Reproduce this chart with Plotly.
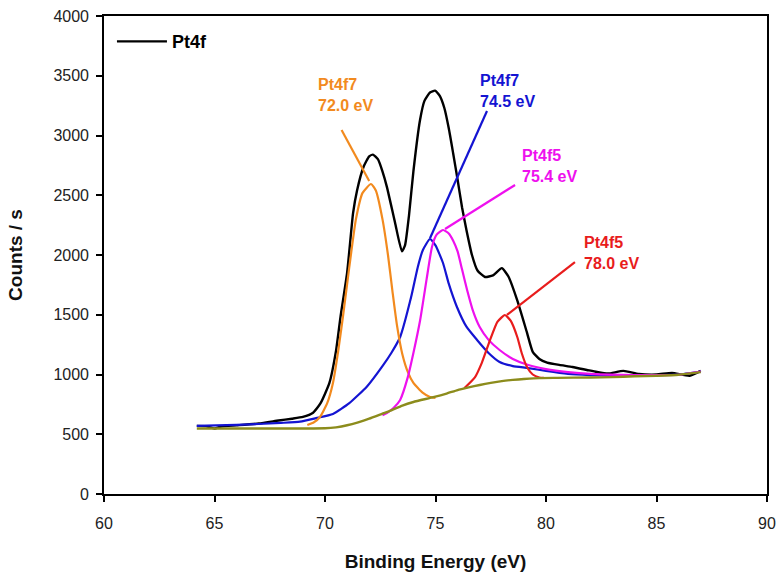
import plotly.graph_objects as go

# ---------------- data ----------------
total_x = [64.2, 64.6, 65.0, 65.3, 66.0, 67.0, 67.9, 68.5, 69.0, 69.46, 69.8, 70.2, 70.5, 70.7,
           71.0, 71.27, 71.45, 71.75, 72.0, 72.17, 72.4, 72.6, 72.8, 73.17, 73.48, 73.62, 73.8,
           74.0, 74.3, 74.5, 74.75, 74.98, 75.2, 75.4, 75.6, 75.8, 76.0, 76.2, 76.4, 76.65,
           76.9, 77.24, 77.6, 78.0, 78.3, 78.7, 79.14, 79.4, 79.7, 80.05, 80.6, 81.2, 81.85,
           82.3, 82.8, 83.5, 84.2, 85.0, 85.7, 86.5, 87.0]
total_y = [570, 568, 548, 565, 575, 590, 615, 630, 645, 680, 760, 930, 1200, 1480,
           1850, 2350, 2540, 2740, 2825, 2840, 2800, 2700, 2570, 2270, 2030, 2080, 2330,
           2700, 3130, 3290, 3360, 3375, 3330, 3230, 3060, 2850, 2630, 2400, 2210, 2000,
           1870, 1816, 1830, 1890, 1820, 1620, 1350, 1190, 1130, 1100, 1080, 1063, 1038,
           1021, 1008, 1030, 1005, 1000, 1013, 990, 1030]

p1_x = [69.2, 69.5, 69.77, 70.1, 70.36, 70.6, 70.81, 71.1, 71.4, 71.7, 72.08, 72.3, 72.6,
        72.85, 73.05, 73.25, 73.5, 73.75, 74.0, 74.4, 74.75, 75.0]
p1_y = [577, 600, 644, 760, 929, 1200, 1481, 1900, 2300, 2520, 2594, 2540, 2300,
        2000, 1700, 1420, 1170, 1020, 930, 850, 812, 805]

p2_x = [64.2, 66.0, 68.0, 68.87, 69.6, 70.36, 71.1, 71.9, 72.6, 73.0, 73.4, 73.9, 74.2, 74.43,
        74.75, 75.0, 75.34, 75.6, 75.97, 76.4, 76.88, 77.4, 77.9, 78.5, 79.2, 80.0, 81.0,
        82.0, 83.0, 84.0, 85.0, 86.0, 87.0]
p2_y = [570, 578, 595, 605, 635, 670, 760, 900, 1070, 1180, 1314, 1650, 1900, 2042,
        2134, 2080, 1933, 1760, 1565, 1400, 1289, 1180, 1105, 1070, 1054, 1030, 1005,
        995, 990, 990, 995, 1000, 1025]

p3_x = [72.6, 72.8, 73.1, 73.4, 73.75, 74.0, 74.3, 74.6, 74.84, 75.05, 75.34, 75.6, 75.8,
        76.0, 76.2, 76.43, 76.7, 77.0, 77.4, 77.9, 78.5, 79.2, 80.0, 81.0, 82.0, 84.0,
        86.0, 87.0]
p3_y = [660, 678, 720, 787, 980, 1180, 1450, 1800, 2067, 2170, 2209, 2180, 2120,
        2030, 1880, 1707, 1530, 1397, 1290, 1205, 1130, 1079, 1045, 1020, 1005, 995,
        998, 1025]

p4_x = [76.3, 76.79, 77.1, 77.47, 77.8, 78.14, 78.4, 78.7, 78.9, 79.14, 79.4, 79.7, 79.9]
p4_y = [885, 979, 1100, 1289, 1440, 1498, 1450, 1314, 1180, 1063, 1000, 975, 972]

bg_x = [64.2, 66.0, 68.0, 70.0, 70.5, 71.0, 71.5, 72.0, 72.6, 73.0, 73.5, 74.0, 74.9, 75.5,
        76.0, 76.5, 77.0, 77.5, 78.0, 78.5, 79.0, 79.7, 80.5, 82.0, 83.0, 84.0, 85.0, 86.0, 87.0]
bg_y = [548, 548, 548, 550, 558, 575, 600, 630, 672, 700, 740, 770, 810, 840,
        870, 892, 912, 930, 945, 955, 962, 970, 972, 975, 978, 985, 990, 998, 1020]

# peak labels: text, colour, text anchor (x, y), leader line start (x, y), leader line end (x, y)
label_texts = ["Pt4f7<br>72.0 eV", "Pt4f7<br>74.5 eV", "Pt4f5<br>75.4 eV", "Pt4f5<br>78.0 eV"]
label_colors = ["#f28a1e", "#1414d2", "#ee10ee", "#e81c1c"]
label_x = [69.59, 76.92, 78.82, 81.63]
label_y = [3339, 3372, 2745, 2017]
leader_x0 = [70.75, 77.33, 78.60, 81.31]
leader_y0 = [3046, 3205, 2586, 1941]
leader_x1 = [72.00, 74.75, 75.43, 78.23]
leader_y1 = [2620, 2140, 2218, 1498]

x_ticks = [60, 65, 70, 75, 80, 85, 90]
y_ticks = [0, 500, 1000, 1500, 2000, 2500, 3000, 3500, 4000]

FONT = "Arial, Liberation Sans, sans-serif"
SMOOTH = 0.5

fig = go.Figure()
fig.add_trace(go.Scatter(x=total_x, y=total_y, mode="lines", name="<b>Pt4f</b>",
                         line=dict(color="black", width=2.4, shape="spline", smoothing=SMOOTH)))
fig.add_trace(go.Scatter(x=p2_x, y=p2_y, mode="lines", showlegend=False,
                         line=dict(color=label_colors[1], width=2.2, shape="spline", smoothing=SMOOTH)))
fig.add_trace(go.Scatter(x=p1_x, y=p1_y, mode="lines", showlegend=False,
                         line=dict(color=label_colors[0], width=2.2, shape="spline", smoothing=SMOOTH)))
fig.add_trace(go.Scatter(x=p3_x, y=p3_y, mode="lines", showlegend=False,
                         line=dict(color=label_colors[2], width=2.2, shape="spline", smoothing=SMOOTH)))
fig.add_trace(go.Scatter(x=p4_x, y=p4_y, mode="lines", showlegend=False,
                         line=dict(color=label_colors[3], width=2.2, shape="spline", smoothing=SMOOTH)))
fig.add_trace(go.Scatter(x=bg_x, y=bg_y, mode="lines", showlegend=False,
                         line=dict(color="#8c8c1c", width=2.4, shape="spline", smoothing=SMOOTH)))

for i in range(len(label_texts)):
    fig.add_shape(type="line", xref="x", yref="y",
                  x0=leader_x0[i], y0=leader_y0[i], x1=leader_x1[i], y1=leader_y1[i],
                  line=dict(color=label_colors[i], width=2.2))
    fig.add_annotation(x=label_x[i], y=label_y[i], xref="x", yref="y",
                       text="<b>" + label_texts[i].replace("<br>", "</b><br><b>") + "</b>",
                       showarrow=False, xanchor="left", yanchor="middle", align="left",
                       font=dict(family=FONT, size=16, color=label_colors[i]))

axis_common = dict(showline=True, linecolor="black", linewidth=1.6, mirror=True,
                   ticks="outside", ticklen=6, tickwidth=1.5, tickcolor="black",
                   showgrid=False, zeroline=False,
                   tickfont=dict(family=FONT, size=16, color="#222"))

fig.update_xaxes(range=[60, 90], tickvals=x_ticks, ticktext=[str(v) for v in x_ticks],
                 ticklabelstandoff=8,
                 title=dict(text="<b>Binding Energy (eV)</b>", font=dict(family=FONT, size=19, color="#111"),
                            standoff=24),
                 **axis_common)
fig.update_yaxes(range=[0, 4000], tickvals=y_ticks, ticktext=[str(v) for v in y_ticks],
                 ticklabelstandoff=4,
                 title=dict(text="<b>Counts / s</b>", font=dict(family=FONT, size=19, color="#111"),
                            standoff=26),
                 **axis_common)

fig.update_layout(width=777, height=578,
                  margin=dict(l=104, r=10, t=16, b=84, autoexpand=False),
                  paper_bgcolor="white", plot_bgcolor="white",
                  showlegend=True,
                  legend=dict(x=0.012, y=0.985, xanchor="left", yanchor="top", bgcolor="rgba(0,0,0,0)",
                              itemwidth=50, font=dict(family=FONT, size=18, color="black")))

fig.write_html("out.html")
